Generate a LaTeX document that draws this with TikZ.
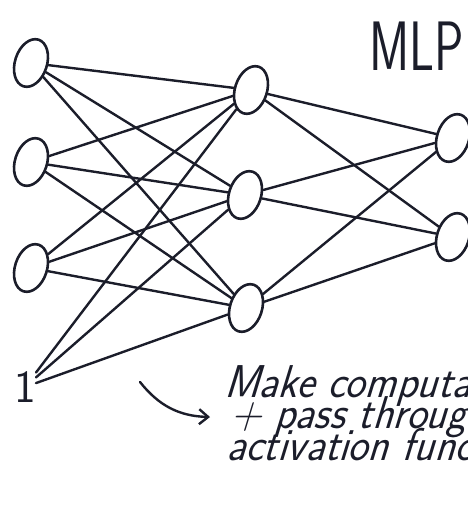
\documentclass[tikz,border=0pt]{standalone}
\usepackage{tikz}
\usetikzlibrary{positioning, arrows.meta, shapes.geometric}

\definecolor{ink}{HTML}{1B1D2A}
\tikzset{
	neuron/.style={draw=ink, line width=2.6pt, ellipse, minimum width=32pt, minimum height=49pt, inner sep=0pt, rotate=-18},
	wire/.style={draw=ink, line width=2.4pt, line cap=round},
	hand/.style={font=\sffamily\itshape\fontsize{46}{46}\selectfont, text=ink, inner sep=0pt, anchor=base west, xscale=0.92, xslant=0.12}
}

\begin{document}
\begin{tikzpicture}[x=1pt, y=-1pt]
	\useasboundingbox (0,0) rectangle (468,506);
	\clip (0,0) rectangle (468,506);
	% ---- input layer + bias ----
	\foreach \n/\y in {1/63, 2/162, 3/268}{
		\node[neuron] (in\n) at (31,\y) {};
	}
	\node[font=\sffamily\fontsize{46}{46}\selectfont, text=ink, inner sep=0pt] (bias) at (25,387) {1};
	% ---- hidden layer ----
	\foreach \n/\x/\y in {1/251/90, 2/245/195, 3/246/308}{
		\node[neuron] (hid\n) at (\x,\y) {};
	}
	% ---- output layer ----
	\foreach \n/\y in {1/138, 2/237}{
		\node[neuron] (out\n) at (453,\y) {};
	}
	% ---- weights ----
	\foreach \s in {in1, in2, in3, bias}{
		\foreach \t in {hid1, hid2, hid3}{
			\draw[wire] (\s) -- (\t);
		}
	}
	\foreach \s in {hid1, hid2, hid3}{
		\foreach \t in {out1, out2}{
			\draw[wire] (\s) -- (\t);
		}
	}
	% ---- labels ----
	\node[font=\sffamily\fontsize{70}{70}\selectfont, text=ink, anchor=base west, inner sep=0pt, xscale=0.7] (title) at (369,70) {MLP};
	\coordinate (arrtail) at (140,382);
	\coordinate (arrtip) at (210,417);
	\draw[wire, -{Straight Barb[length=9pt, width=15pt]}] (arrtail) to[bend right=25] (arrtip);
	\node[hand] (note1) at (224,397) {Make computation};
	\node[hand] (note2) at (230,428) {+ pass through};
	\node[hand] (note3) at (226,460) {activation function};
\end{tikzpicture}
\end{document}
